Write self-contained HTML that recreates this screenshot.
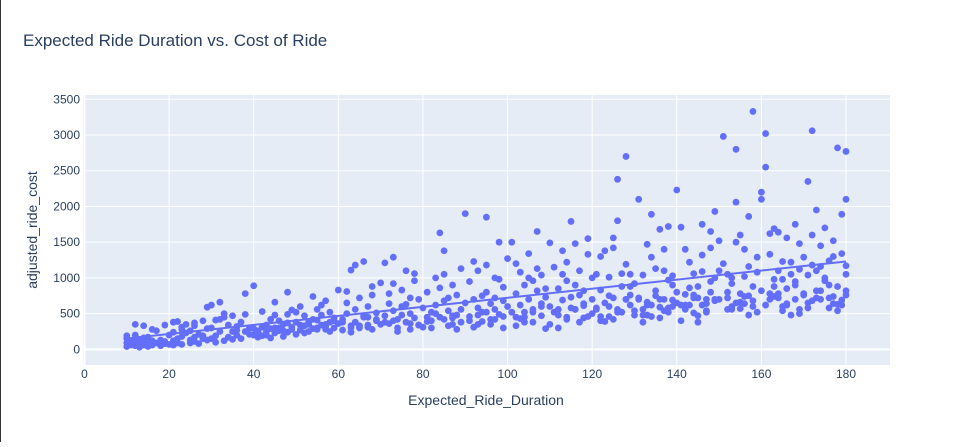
<!DOCTYPE html>
<html><head><meta charset="utf-8"><style>
html,body{margin:0;padding:0;background:#fff;}
body{width:969px;height:442px;overflow:hidden;border-left:1px solid #333;box-sizing:border-box;}
svg text{font-family:"Liberation Sans",Arial,sans-serif;fill:#2a3f5f;}
</style></head><body>
<svg id="chart" width="969" height="442" xmlns="http://www.w3.org/2000/svg">
<text x="22" y="46" font-size="17">Expected Ride Duration vs. Cost of Ride</text>
<rect x="82" y="95" width="807" height="270" fill="#e5ecf6"/>
<g id="grid"></g><g id="ticks"></g><g id="marks"></g>
<text x="485" y="405" font-size="14" text-anchor="middle">Expected_Ride_Duration</text>
<text transform="translate(36,230) rotate(-90)" font-size="14" text-anchor="middle">adjusted_ride_cost</text>
</svg>
<script>
const xTicks=[0,20,40,60,80,100,120,140,160,180];
const yTicks=[0,500,1000,1500,2000,2500,3000,3500];
const rideDuration=[
10,10,10,10,11,11,11,12,12,12,13,13,13,14,14,14,15,15,15,16,16,16,17,17,18,18,19,19,12,14,16,19,
20,20,21,21,21,22,22,22,23,23,23,24,24,25,25,25,26,26,26,27,27,28,28,29,29,29,21,23,26,28,
30,30,30,31,31,32,32,32,33,33,34,34,35,35,35,36,36,37,37,38,38,38,39,39,40,40,40,33,31,36,
41,41,42,42,43,43,44,44,45,45,45,46,46,47,47,48,48,48,49,49,50,50,50,42,44,46,48,43,
51,51,52,52,53,53,54,54,55,55,56,56,57,57,58,58,59,59,60,60,52,54,56,58,55,57,
61,61,62,62,63,63,64,64,65,65,66,66,67,67,68,68,69,69,70,70,62,64,66,68,63,67,
71,71,72,72,73,73,74,74,75,75,76,76,77,77,78,78,79,79,80,80,72,74,76,78,73,77,
81,81,82,82,83,83,84,84,85,85,86,86,87,87,88,88,89,89,90,90,82,84,86,88,85,87,
91,91,92,92,93,93,94,94,95,95,96,96,97,97,98,98,99,99,100,100,92,94,96,98,93,97,95,99,
101,101,102,102,103,103,104,104,105,105,106,106,107,107,108,108,109,109,110,110,102,104,106,108,103,107,105,109,
111,111,112,112,113,113,114,114,115,115,116,116,117,117,118,118,119,119,120,120,112,114,116,118,113,117,115,119,
121,121,122,122,123,123,124,124,125,125,126,126,127,127,128,128,129,129,130,130,122,124,126,128,125,127,123,129,
131,131,132,132,133,133,134,134,135,135,136,136,137,137,138,138,139,139,140,140,132,134,136,138,133,137,135,139,
141,141,142,142,143,143,144,144,145,145,146,146,147,147,148,148,149,149,150,150,142,144,146,148,143,147,145,149,
151,151,152,152,153,153,154,154,155,155,156,156,157,157,158,158,159,159,160,160,152,154,156,158,153,157,155,159,
161,161,162,162,163,163,164,164,165,165,166,166,167,167,168,168,169,169,170,170,162,164,166,168,163,165,167,169,
171,171,172,172,173,173,174,174,175,175,176,176,177,177,178,178,179,179,180,180,180,180,172,174,176,178,173,175,177,179,171,180,
102,104,106,108,110,112,114,116,118,120,122,124,126,128,130,132,134,136,138,140,142,144,146,148,150,152,154,156,158,160,162,164,166,168,170,172,174,176,178,180,121,125,129,133,137,141,145,149,153,157,161,165,169,173,177,131,139,147,155,163,171,179,
41,45,49,53,57,61,65,69,73,77,81,85,89,93,97,43,47,51,55,59,63,67,71,75,79,83,87,91,95,99];
const rideCost=[
40,90,150,190,60,120,80,50,110,350,70,140,30,100,60,330,80,170,40,120,280,60,90,260,50,130,80,340,200,160,70,110,
70,200,120,380,60,150,390,90,180,280,70,230,350,130,260,90,170,330,110,210,80,400,150,590,290,130,240,310,370,190,
620,300,150,410,190,660,420,250,500,120,340,170,470,250,140,320,200,380,150,780,490,250,300,210,890,290,200,450,100,270,
260,170,530,310,340,200,290,420,660,480,230,400,300,350,180,800,490,240,550,310,520,380,210,190,160,260,370,250,
600,270,470,330,390,250,740,420,560,300,480,340,680,280,520,380,440,300,830,360,230,290,620,250,410,350,
420,270,810,500,1110,330,560,380,720,300,1230,450,600,340,880,280,510,400,930,350,650,1180,470,760,240,310,
1210,470,640,360,1290,540,420,300,830,600,1100,380,500,280,960,440,700,340,580,310,780,250,630,1060,920,720,
800,390,520,300,1000,620,1630,450,1380,680,540,330,900,470,760,280,1130,560,1900,650,400,860,720,480,1050,350,
950,460,700,310,1100,580,520,390,1850,800,640,350,1000,720,1500,490,870,300,1270,600,1230,750,420,980,350,560,1180,680,
1500,520,780,330,1080,620,900,450,1340,700,560,380,1650,820,1040,470,730,290,1490,600,1200,520,960,640,430,1130,1000,850,
1150,520,850,300,1380,690,960,450,1790,730,1480,560,1100,380,820,610,1330,460,1000,700,560,1220,900,440,1050,760,580,1550,
1050,560,830,400,1380,650,1010,460,1420,720,2380,1800,880,520,2700,1190,1050,620,920,480,1300,750,560,700,1560,1060,390,880,
2100,720,1040,380,1470,660,1890,460,1130,820,1680,590,1400,700,1720,520,1030,690,2230,800,560,1290,440,970,620,1100,750,900,
1710,400,1400,770,1220,620,1060,510,880,720,1750,1320,640,540,1420,950,1930,680,1100,1520,620,760,1090,1650,860,700,470,1000,
2980,1200,1050,720,920,600,2800,2060,1600,780,1020,640,1860,1160,3330,880,1290,520,2200,2100,800,1500,1400,680,1000,750,570,1080,
3020,2550,1620,780,1690,980,1640,720,1230,600,1560,850,1220,480,1750,950,1120,560,1290,780,1330,1100,620,700,880,980,1050,1480,
2350,1040,3060,1600,1950,820,1450,700,1700,1000,1240,580,1520,740,2820,630,1890,1340,2770,2100,1170,820,1180,1160,900,540,1100,960,1300,690,650,1050,
450,380,520,600,350,480,420,560,640,500,460,600,520,700,540,480,620,700,580,650,560,720,620,800,700,560,650,740,600,820,700,780,640,900,760,680,820,720,880,760,580,420,760,480,540,620,380,700,560,480,620,540,500,720,640,700,600,520,660,740,580,620,
240,300,280,350,320,380,330,420,400,360,450,420,380,480,420,300,260,340,280,400,300,450,380,480,340,500,440,400,520,460];

const NS="http://www.w3.org/2000/svg";
const L=82,R=889,T=95,B=365,XMIN=-0.35,XMAX=190.4,YMIN=-219,YMAX=3560;
const sx=v=>L+(v-XMIN)/(XMAX-XMIN)*(R-L);
const sy=v=>B-(v-YMIN)/(YMAX-YMIN)*(B-T);
function mk(tag,attrs,parent){const e=document.createElementNS(NS,tag);for(const k in attrs)e.setAttribute(k,attrs[k]);parent.appendChild(e);return e;}
const grid=document.getElementById('grid'),ticks=document.getElementById('ticks'),marks=document.getElementById('marks');
xTicks.forEach(t=>{
  const g=mk('line',{x1:sx(t),x2:sx(t),y1:T,y2:B,stroke:'#fff','stroke-width':t===0?2:1},grid);
  
  
  const tx=mk('text',{x:sx(t),y:378,'font-size':12,'text-anchor':'middle'},ticks);
  tx.textContent=t;
  
  
});
yTicks.forEach(t=>{
  const g=mk('line',{x1:L,x2:R,y1:sy(t),y2:sy(t),stroke:'#fff','stroke-width':t===0?2:1},grid);
  
  
  const tx=mk('text',{x:79,y:sy(t)+4,'font-size':12,'text-anchor':'end'},ticks);
  tx.textContent=t;
  
  
});
rideDuration.forEach((x,i)=>{
  const c=mk('circle',{cx:sx(x),cy:sy(rideCost[i]),r:3.4,fill:'#636efa'},marks);
  
  
});
const n=rideDuration.length;let mx=0,my=0;
for(let i=0;i<n;i++){mx+=rideDuration[i];my+=rideCost[i];}mx/=n;my/=n;
let sxy=0,sxx=0;for(let i=0;i<n;i++){sxy+=(rideDuration[i]-mx)*(rideCost[i]-my);sxx+=(rideDuration[i]-mx)**2;}
const b=sxy/sxx,a=my-b*mx;
const x0=Math.min(...rideDuration),x1=Math.max(...rideDuration);
const tl=mk('line',{x1:sx(x0),y1:sy(a+b*x0),x2:sx(x1),y2:sy(a+b*x1),stroke:'#636efa','stroke-width':2},marks);


</script>
</body></html>
